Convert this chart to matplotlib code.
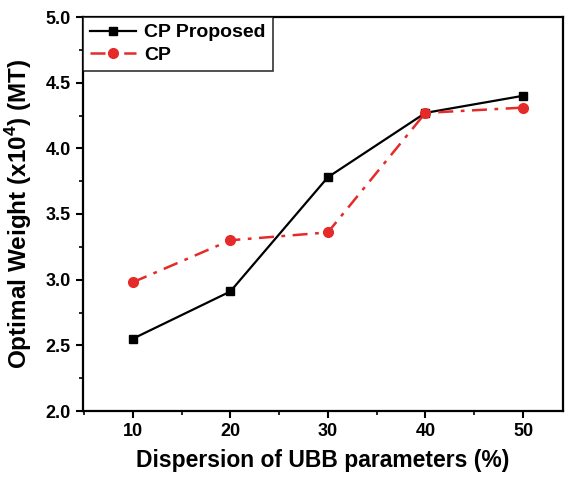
import matplotlib
matplotlib.use("Agg")
import matplotlib.pyplot as plt
from matplotlib.ticker import MultipleLocator

plt.rcParams['font.family'] = ['Liberation Sans', 'DejaVu Sans']
plt.rcParams['font.weight'] = 'bold'
plt.rcParams['mathtext.fontset'] = 'custom'
plt.rcParams['mathtext.bf'] = 'Liberation Sans:bold'
plt.rcParams['mathtext.rm'] = 'Liberation Sans:bold'

x = [10, 20, 30, 40, 50]
cp_proposed = [2.55, 2.91, 3.78, 4.27, 4.40]
cp = [2.98, 3.30, 3.36, 4.27, 4.31]
xticks = [10, 20, 30, 40, 50]
yticks = [2.0, 2.5, 3.0, 3.5, 4.0, 4.5, 5.0]

fig = plt.figure(figsize=(5.73, 4.8), dpi=100)
ax = fig.add_axes([83/573, 1-411/480, (563-83)/573, (411-17)/480])

ax.plot(x, cp_proposed, color='black', linestyle='-', linewidth=1.6,
        marker='s', markersize=6, label='CP Proposed')
ax.plot(x, cp, color='#e52a2a', linestyle='-.', linewidth=1.8,
        marker='o', markersize=7, label='CP', dashes=(6, 3, 1.5, 3))

ax.set_xlim(4.9, 54.1)
ax.set_ylim(2.0, 5.0)
ax.set_xticks(xticks)
ax.set_yticks(yticks)
ax.set_yticklabels([f"{v:.1f}" for v in yticks])
ax.xaxis.set_minor_locator(MultipleLocator(5))
ax.yaxis.set_minor_locator(MultipleLocator(0.25))
ax.tick_params(axis='both', which='major', direction='out', length=5, width=1.5,
               labelsize=13, pad=4)
ax.tick_params(axis='both', which='minor', direction='out', length=3, width=1.2)
for lab in ax.get_xticklabels() + ax.get_yticklabels():
    lab.set_fontweight('bold')
for s in ax.spines.values():
    s.set_linewidth(1.6)

ax.set_xlabel('Dispersion of UBB parameters (%)', fontsize=16.5, fontweight='bold', labelpad=6)
ax.set_ylabel('Optimal Weight (x10$^{4}$) (MT)', fontsize=17.5, fontweight='bold', labelpad=8)

leg = ax.legend(loc='upper left', fontsize=14, frameon=True, fancybox=False,
                borderaxespad=0, handlelength=2.4, borderpad=0.35, labelspacing=0.25,
                handletextpad=0.4)
leg.get_frame().set_edgecolor('black')
leg.get_frame().set_linewidth(1.2)
for t in leg.get_texts():
    t.set_fontweight('bold')

fig.savefig('out.png', dpi=100)
